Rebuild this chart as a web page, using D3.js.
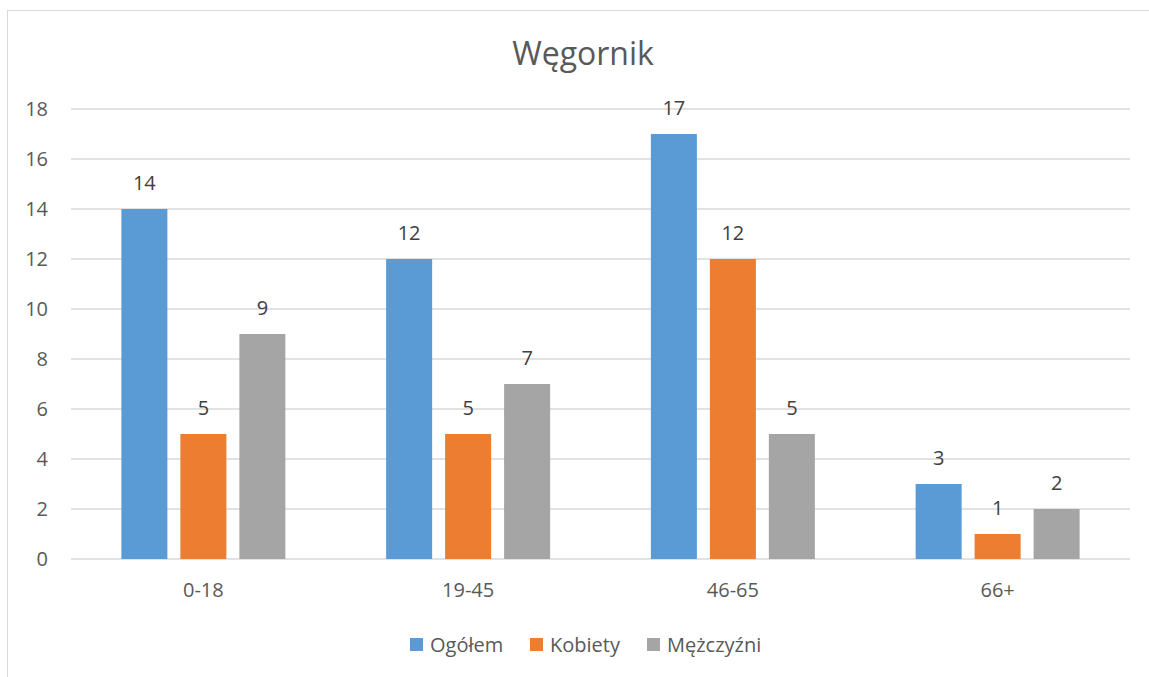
<!DOCTYPE html>
<html>
<head>
<meta charset="utf-8">
<script src="https://cdn.jsdelivr.net/npm/d3@7"></script>
<style>
  body { margin: 0; background: #fff; }
  text { font-family: "Open Sans", "Noto Sans", sans-serif; fill: #595959; }
</style>
</head>
<body>
<div id="chart"></div>
<script>
var categories = ["0-18", "19-45", "46-65", "66+"];
var seriesNames = ["Ogółem", "Kobiety", "Mężczyźni"];
var ogolem = [14, 12, 17, 3];
var kobiety = [5, 5, 12, 1];
var mezczyzni = [9, 7, 5, 2];
var yTicks = [0, 2, 4, 6, 8, 10, 12, 14, 16, 18];
var colors = ["#5b9bd5", "#ed7d31", "#a5a5a5"];

var width = 1149, height = 677;
var plotLeft = 71, plotRight = 1130, plotTop = 109, plotBottom = 559;

var svg = d3.select("#chart")
    .append("svg")
    .attr("width", width)
    .attr("height", height);

// chart border
svg.append("rect")
    .attr("x", 7.5).attr("y", 10.5)
    .attr("width", 1160).attr("height", 700)
    .attr("fill", "none")
    .attr("stroke", "#d9d9d9");

var x = d3.scaleBand()
    .domain(categories)
    .range([plotLeft, plotRight]);

var x1 = d3.scaleBand()
    .domain(seriesNames)
    .range([0, 164])
    .paddingInner(0.22);

var y = d3.scaleLinear()
    .domain([0, 18])
    .range([plotBottom, plotTop]);

// gridlines
svg.append("g")
    .selectAll("line")
    .data(yTicks)
    .enter()
    .append("line")
    .attr("x1", plotLeft).attr("x2", plotRight)
    .attr("y1", function (d) { return y(d); })
    .attr("y2", function (d) { return y(d); })
    .attr("stroke", "#d9d9d9")
    .attr("stroke-width", 1.3);

// y labels
svg.append("g")
    .selectAll("text")
    .data(yTicks)
    .enter()
    .append("text")
    .attr("x", 48)
    .attr("y", function (d) { return y(d) + 7; })
    .attr("text-anchor", "end")
    .attr("font-size", "20px")
    .text(function (d) { return d; });

// x labels
svg.append("g")
    .selectAll("text")
    .data(categories)
    .enter()
    .append("text")
    .attr("x", function (d) { return x(d) + x.bandwidth() / 2; })
    .attr("y", 597)
    .attr("text-anchor", "middle")
    .attr("font-size", "20px")
    .text(function (d) { return d; });

var allSeries = [ogolem, kobiety, mezczyzni];
var groups = svg.append("g")
    .selectAll("g")
    .data(categories)
    .enter()
    .append("g")
    .attr("transform", function (d) {
        return "translate(" + (x(d) + x.bandwidth() / 2 - 82) + ",0)";
    });

var bars = groups.selectAll("g")
    .data(function (d, i) {
        return seriesNames.map(function (s, j) {
            return { name: s, value: allSeries[j][i], idx: j };
        });
    })
    .enter()
    .append("g");

bars.append("rect")
    .attr("x", function (d) { return x1(d.name); })
    .attr("y", function (d) { return y(d.value); })
    .attr("width", x1.bandwidth())
    .attr("height", function (d) { return y(0) - y(d.value); })
    .attr("fill", function (d) { return colors[d.idx]; });

bars.append("text")
    .attr("x", function (d) { return x1(d.name) + x1.bandwidth() / 2; })
    .attr("y", function (d) { return y(d.value) - 19; })
    .attr("text-anchor", "middle")
    .attr("font-size", "20px")
    .style("fill", "#404040")
    .text(function (d) { return d.value; });

// title
svg.append("text")
    .attr("x", 583)
    .attr("y", 65)
    .attr("text-anchor", "middle")
    .attr("font-size", "32px")
    .text("Węgornik");

// legend
var legendX = [410, 530, 647];
var legend = svg.append("g")
    .selectAll("g")
    .data(seriesNames)
    .enter()
    .append("g")
    .attr("transform", function (d, i) { return "translate(" + legendX[i] + ",638)"; });

legend.append("rect")
    .attr("width", 13).attr("height", 13)
    .attr("fill", function (d, i) { return colors[i]; });

legend.append("text")
    .attr("x", 20)
    .attr("y", 14)
    .attr("font-size", "20px")
    .text(function (d) { return d; });
</script>
</body>
</html>
